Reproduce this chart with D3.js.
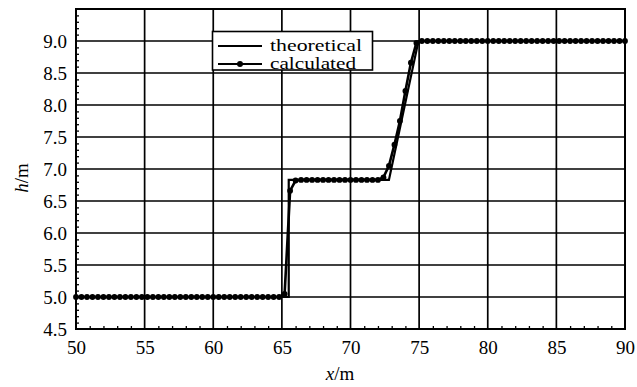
<!DOCTYPE html>
<html>
<head>
<meta charset="utf-8">
<script src="https://cdn.jsdelivr.net/npm/d3@7"></script>
<style>
  html, body { margin: 0; padding: 0; background: #fff; }
  svg { display: block; }
  svg text { font-family: "Liberation Serif", "DejaVu Serif", serif !important; fill: #000; }
</style>
</head>
<body>
<svg id="chart" width="637" height="387"></svg>
<script>
// Water depth h along the channel: analytical solution vs. numerical result
const xTicks = [50, 55, 60, 65, 70, 75, 80, 85, 90];
const yTicks = [4.5, 5.0, 5.5, 6.0, 6.5, 7.0, 7.5, 8.0, 8.5, 9.0];

// theoretical profile (vertices of the polyline)
const theoX = [50, 65.5, 65.5, 72.8, 74.95, 90];
const theoH = [5.0, 5.0, 6.83, 6.83, 9.0, 9.0];

// calculated profile (grid nodes)
const calcX = [
  50, 50.4, 50.8, 51.2, 51.6, 52, 52.4, 52.8, 53.2, 53.6,
  54, 54.4, 54.8, 55.2, 55.6, 56, 56.4, 56.8, 57.2, 57.6,
  58, 58.4, 58.8, 59.2, 59.6, 60, 60.4, 60.8, 61.2, 61.6,
  62, 62.4, 62.8, 63.2, 63.6, 64, 64.4, 64.8, 65.2, 65.6,
  66, 66.4, 66.8, 67.2, 67.6, 68, 68.4, 68.8, 69.2, 69.6,
  70, 70.4, 70.8, 71.2, 71.6, 72, 72.4, 72.8, 73.2, 73.6,
  74, 74.4, 74.8, 75.2, 75.6, 76, 76.4, 76.8, 77.2, 77.6,
  78, 78.4, 78.8, 79.2, 79.6, 80, 80.4, 80.8, 81.2, 81.6,
  82, 82.4, 82.8, 83.2, 83.6, 84, 84.4, 84.8, 85.2, 85.6,
  86, 86.4, 86.8, 87.2, 87.6, 88, 88.4, 88.8, 89.2, 89.6,
  90
];
const calcH = [
  5.0, 5.0, 5.0, 5.0, 5.0, 5.0, 5.0, 5.0, 5.0, 5.0,
  5.0, 5.0, 5.0, 5.0, 5.0, 5.0, 5.0, 5.0, 5.0, 5.0,
  5.0, 5.0, 5.0, 5.0, 5.0, 5.0, 5.0, 5.0, 5.0, 5.0,
  5.0, 5.0, 5.0, 5.0, 5.0, 5.0, 5.0, 5.0, 5.05, 6.66,
  6.82, 6.83, 6.83, 6.83, 6.83, 6.83, 6.83, 6.83, 6.83, 6.83,
  6.83, 6.83, 6.83, 6.83, 6.83, 6.83, 6.87, 7.05, 7.38, 7.75,
  8.22, 8.66, 8.97, 9.0, 9.0, 9.0, 9.0, 9.0, 9.0, 9.0,
  9.0, 9.0, 9.0, 9.0, 9.0, 9.0, 9.0, 9.0, 9.0, 9.0,
  9.0, 9.0, 9.0, 9.0, 9.0, 9.0, 9.0, 9.0, 9.0, 9.0,
  9.0, 9.0, 9.0, 9.0, 9.0, 9.0, 9.0, 9.0, 9.0, 9.0,
  9.0
];

const legendLabels = ["theoretical", "calculated"];

const svg = d3.select("#chart");
const plotL = 76, plotR = 625, plotT = 9, plotB = 329;

const x = d3.scaleLinear().domain([50, 90]).range([plotL, plotR]);
const y = d3.scaleLinear().domain([4.5, 9.5]).range([plotB, plotT]);

// grid
const grid = svg.append("g").attr("stroke", "#000").attr("stroke-width", 1.7);
grid.selectAll("line.vx").data(xTicks.slice(1, -1)).join("line")
  .attr("x1", d => x(d)).attr("x2", d => x(d))
  .attr("y1", plotT).attr("y2", plotB);
grid.selectAll("line.hy").data(yTicks.slice(1)).join("line")
  .attr("x1", plotL).attr("x2", plotR)
  .attr("y1", d => y(d)).attr("y2", d => y(d));

// axes with minor ticks pointing inward
const xMinor = d3.axisBottom(x).tickValues(d3.range(51, 90, 1).filter(v => v % 5 !== 0))
  .tickSize(-3).tickFormat("");
const yMinor = d3.axisLeft(y).tickValues(d3.range(46, 95, 1).map(v => v / 10).filter(v => Math.round(v * 10) % 5 !== 0))
  .tickSize(-3).tickFormat("");
svg.append("g").attr("transform", `translate(0,${plotB})`).call(xMinor)
  .call(g => g.select(".domain").remove())
  .selectAll("line").attr("stroke", "#000").attr("stroke-width", 1.3);
svg.append("g").attr("transform", `translate(${plotL},0)`).call(yMinor)
  .call(g => g.select(".domain").remove())
  .selectAll("line").attr("stroke", "#000").attr("stroke-width", 1.3);

const xAxis = d3.axisBottom(x).tickValues(xTicks).tickSize(0).tickPadding(12)
  .tickFormat(d3.format("d"));
svg.append("g").attr("transform", `translate(0,${plotB})`).call(xAxis)
  .attr("font-family", null)
  .call(g => g.select(".domain").remove())
  .selectAll("text").attr("font-size", 19);

const yAxis = d3.axisLeft(y).tickValues(yTicks).tickSize(0).tickPadding(9)
  .tickFormat(d3.format(".1f"));
svg.append("g").attr("transform", `translate(${plotL},0)`).call(yAxis)
  .attr("font-family", null)
  .call(g => g.select(".domain").remove())
  .selectAll("text").attr("font-size", 19);

// frame
svg.append("rect").attr("x", plotL).attr("y", plotT)
  .attr("width", plotR - plotL).attr("height", plotB - plotT)
  .attr("fill", "none").attr("stroke", "#000").attr("stroke-width", 2);

// theoretical line
const theo = theoX.map((v, i) => [v, theoH[i]]);
const line = d3.line().x(d => x(d[0])).y(d => y(d[1]));
svg.append("path").datum(theo).attr("d", line)
  .attr("fill", "none").attr("stroke", "#000").attr("stroke-width", 2.2);

// calculated line with markers
const calc = calcX.map((v, i) => [v, calcH[i]]);
svg.append("path").datum(calc).attr("d", line)
  .attr("fill", "none").attr("stroke", "#000").attr("stroke-width", 2.6);
svg.append("g").selectAll("circle").data(calc).join("circle")
  .attr("cx", d => x(d[0])).attr("cy", d => y(d[1])).attr("r", 2.9)
  .attr("fill", "#000");

// legend
const lg = svg.append("g");
lg.append("rect").attr("x", 212.5).attr("y", 31.5).attr("width", 160).attr("height", 38.5)
  .attr("fill", "#fff").attr("stroke", "#000").attr("stroke-width", 1.6);
lg.append("line").attr("x1", 218).attr("x2", 262).attr("y1", 46).attr("y2", 46)
  .attr("stroke", "#000").attr("stroke-width", 2);
lg.append("line").attr("x1", 218).attr("x2", 262).attr("y1", 64).attr("y2", 64)
  .attr("stroke", "#000").attr("stroke-width", 2);
lg.append("circle").attr("cx", 240).attr("cy", 64).attr("r", 3).attr("fill", "#000");
lg.selectAll("text").data(legendLabels).join("text")
  .attr("x", 270).attr("y", (d, i) => 50.5 + i * 18)
  .attr("font-size", 16.5)
  .attr("textLength", (d, i) => i === 0 ? 92 : 86)
  .attr("lengthAdjust", "spacingAndGlyphs")
  .text(d => d);

// axis titles
const xt = svg.append("text").attr("x", 340).attr("y", 380).attr("text-anchor", "middle")
  .attr("font-size", 19);
xt.append("tspan").attr("font-style", "italic").text("x");
xt.append("tspan").text("/m");

const yt = svg.append("text").attr("transform", "translate(28,178) rotate(-90)")
  .attr("text-anchor", "middle").attr("font-size", 19);
yt.append("tspan").attr("font-style", "italic").text("h");
yt.append("tspan").text("/m");
</script>
</body>
</html>
